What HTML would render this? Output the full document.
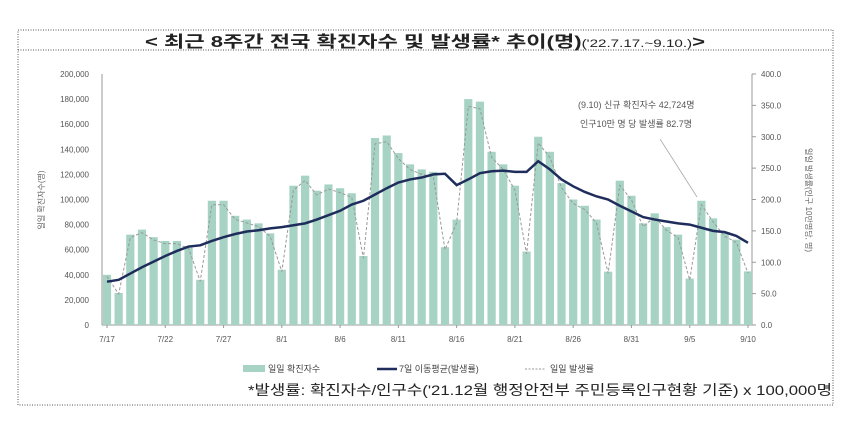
<!DOCTYPE html>
<html><head><meta charset="utf-8">
<style>
body{margin:0;background:#fff;width:853px;height:420px;overflow:hidden;font-family:"Liberation Sans","Noto Sans CJK KR",sans-serif;}
svg text{font-family:"Liberation Sans","Noto Sans CJK KR",sans-serif;}
</style></head>
<body>
<svg id="c" width="853" height="420">
<rect x="18" y="30" width="815" height="375" fill="none" stroke="#555" stroke-dasharray="1,1.5"/>
<line x1="18" y1="50" x2="833" y2="50" stroke="#555" stroke-dasharray="1,1.5"/>
<text x="145" y="47" font-size="16" font-weight="bold" fill="#222" textLength="560" lengthAdjust="spacingAndGlyphs">&lt; 최근 8주간 전국 확진자수 및 발생률* 추이(명)<tspan font-size="11" font-weight="normal">('22.7.17.~9.10.)</tspan>&gt;</text>
<g id="plot"></g>
<text transform="translate(44,200) rotate(-90)" text-anchor="middle" font-size="8" fill="#666">일일 확진자수(명)</text>
<text transform="translate(806,200) rotate(90)" text-anchor="middle" font-size="8" fill="#666">일일 발생률(인구 10만명당, 명)</text>
<text x="578" y="108" font-size="9" fill="#555">(9.10) 신규 확진자수 42,724명</text>
<text x="580" y="127" font-size="9" fill="#555">인구10만 명 당 발생률 82.7명</text>
<line x1="660" y1="139" x2="697" y2="197" stroke="#aaa" stroke-width="0.8"/>
<g>
<rect x="243" y="365" width="22" height="7" fill="#a6d3c4"/>
<text x="268" y="372" font-size="9" fill="#444">일일 확진자수</text>
<line x1="377" y1="369" x2="397" y2="369" stroke="#1f2d5c" stroke-width="2.5"/>
<text x="399" y="372" font-size="9" fill="#444">7일 이동평균(발생률)</text>
<line x1="525" y1="369" x2="545" y2="369" stroke="#999" stroke-dasharray="2,1.5"/>
<text x="550" y="372" font-size="9" fill="#444">일일 발생률</text>
</g>
<text x="248" y="395" font-size="14" fill="#222" textLength="584" lengthAdjust="spacingAndGlyphs">*발생률: 확진자수/인구수('21.12월 행정안전부 주민등록인구현황 기준) x 100,000명</text>
</svg>
<script>
const dates=["7/17","7/18","7/19","7/20","7/21","7/22","7/23","7/24","7/25","7/26","7/27","7/28","7/29","7/30","7/31","8/1","8/2","8/3","8/4","8/5","8/6","8/7","8/8","8/9","8/10","8/11","8/12","8/13","8/14","8/15","8/16","8/17","8/18","8/19","8/20","8/21","8/22","8/23","8/24","8/25","8/26","8/27","8/28","8/29","8/30","8/31","9/1","9/2","9/3","9/4","9/5","9/6","9/7","9/8","9/9","9/10"];
const cases=[40000,25500,72000,76000,70000,67000,67000,63000,36000,99000,99000,87000,84000,81000,73000,44000,111000,119000,107000,112000,109000,105000,55000,149000,151000,137000,128000,124000,122000,62000,84000,180000,178000,138000,128000,111000,58500,150000,138000,113000,100000,95000,84000,42500,115000,103000,81000,89000,78000,72000,37000,99000,85000,73000,68000,42724];
const rate=[77.4,49.4,139.4,147.1,135.5,129.7,129.7,122,69.7,191.7,191.7,168.4,162.6,156.8,141.3,85.2,214.9,230.4,207.2,216.8,211,203.3,106.5,288.5,292.3,265.2,247.8,240.1,236.2,120,162.6,348.5,344.6,267.2,247.8,214.9,113.3,290.4,267.2,218.8,193.6,183.9,162.6,82.3,222.6,199.4,156.8,172.3,151,139.4,71.6,191.7,164.6,141.3,131.6,82.7];
const ma=[69,72,82,92,101,110,118,125,127,134,140,145,149,151,154,156,159,162,168,175,182,192,198,208,218,227,232,235,240,241,223,232,242,245,246,244,244,261,248,232,221,212,205,200,190,181,172,168,165,162,160,155,150,148,142,131];
const leftTicks=["0","20,000","40,000","60,000","80,000","100,000","120,000","140,000","160,000","180,000","200,000"];
const rightTicks=["0.0","50.0","100.0","150.0","200.0","250.0","300.0","350.0","400.0"];
const X0=107,X1=748,Y0=325,YT=74;
const xs=i=>X0+i*(X1-X0)/(dates.length-1);
const yL=v=>Y0-v/200000*(Y0-YT);
const yR=v=>Y0-v/400*(Y0-YT);
const NS="http://www.w3.org/2000/svg",g=document.getElementById('plot');
function mk(t,a){const e=document.createElementNS(NS,t);for(const k in a)e.setAttribute(k,a[k]);g.appendChild(e);return e;}
let e;
e=mk('line',{x1:102,y1:YT,x2:102,y2:Y0,stroke:'#999'});


e=mk('line',{x1:752,y1:YT,x2:752,y2:Y0,stroke:'#999'});


e=mk('line',{x1:102,y1:Y0,x2:752,y2:Y0,stroke:'#999'});


leftTicks.forEach((t,i)=>{const y=yL(i*20000);
e=mk('text',{x:89,y:y+3,'text-anchor':'end','font-size':8,fill:'#555'});e.textContent=t;

});
rightTicks.forEach((t,i)=>{const y=yR(i*50);
mk('line',{x1:752,y1:y,x2:756,y2:y,stroke:'#999'});
e=mk('text',{x:761,y:y+3,'font-size':8,fill:'#555'});e.textContent=t;

});
const bw=8.2;
cases.forEach((v,i)=>{e=mk('rect',{x:xs(i)-bw/2,y:yL(v),width:bw,height:Y0-yL(v),fill:'#a6d3c4'});

});
e=mk('polyline',{points:rate.map((v,i)=>xs(i)+','+yR(v)).join(' '),fill:'none',stroke:'#999','stroke-width':1,'stroke-dasharray':'3,2'});


e=mk('polyline',{points:ma.map((v,i)=>xs(i)+','+yR(v)).join(' '),fill:'none',stroke:'#1f2d5c','stroke-width':2.5});


dates.forEach((d,i)=>{if(i%5===0||i===dates.length-1){const x=xs(i);
mk('line',{x1:x,y1:Y0,x2:x,y2:Y0+3,stroke:'#999'});
e=mk('text',{x:x,y:Y0+17,'text-anchor':'middle','font-size':8,fill:'#555'});e.textContent=d;

}});
</script>
</body></html>
